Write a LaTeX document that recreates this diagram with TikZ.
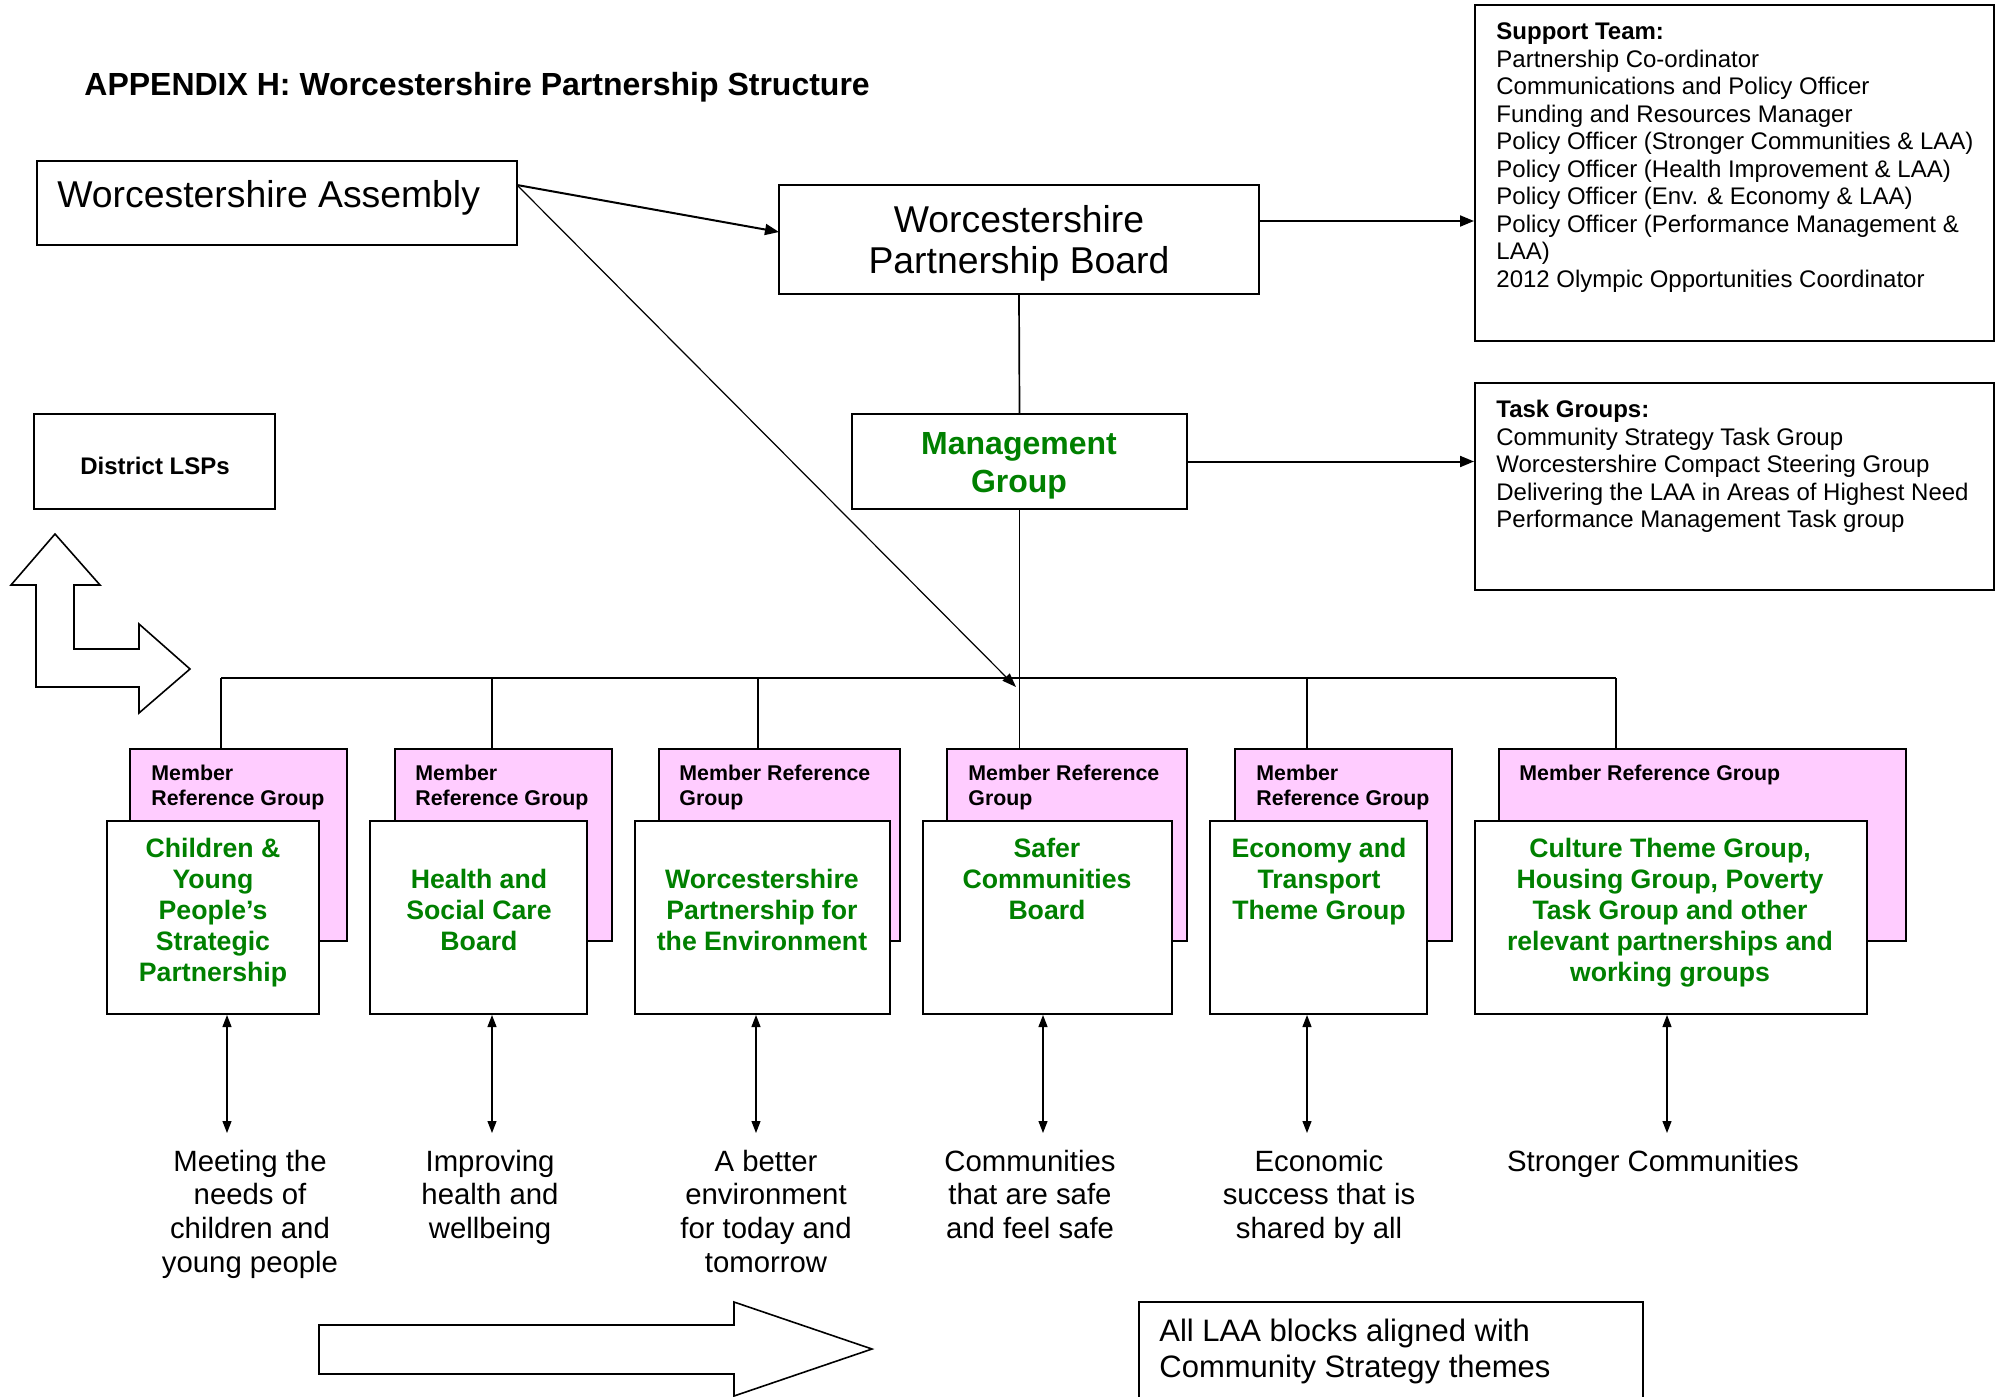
\documentclass[tikz,border=0pt]{standalone}
\usepackage{fontspec}
\setmainfont{Liberation Sans}
\usetikzlibrary{arrows.meta,fit}
\definecolor{thgreen}{RGB}{0,128,0}
\definecolor{mrgpink}{RGB}{255,204,255}
\begin{document}
\begin{tikzpicture}[x=0.5pt,y=-0.5pt,
  box/.style={draw, line width=1pt, inner sep=0pt, fill=white},
  mrg/.style={draw, line width=1pt, inner sep=0pt, fill=mrgpink},
  txt/.style={inner sep=0pt},
  conn/.style={line width=0.85pt},
  arr/.style={line width=1pt, -{Triangle[length=7pt,width=5.5pt]}},
  thinarr/.style={line width=0.6pt, -{Triangle[length=7pt,width=5pt]}},
  darr/.style={line width=0.6pt, {Triangle[length=6pt,width=4.5pt]}-{Triangle[length=6pt,width=4.5pt]}},
  big/.style={font=\fontsize{18.67}{20.5}\selectfont},
  small/.style={font=\fontsize{12}{13.76}\selectfont},
  mrgtxt/.style={txt, anchor=north west, align=left, font=\bfseries\fontsize{10.67}{12.5}\selectfont},
  thtxt/.style={txt, anchor=north, align=center, text=thgreen, font=\bfseries\fontsize{13.33}{15.5}\selectfont},
  outtxt/.style={txt, anchor=north, align=center, font=\fontsize{14.67}{16.85}\selectfont},
  blockarrow/.style={draw, line width=0.8pt, fill=white}
]
\useasboundingbox (0,0) rectangle (2002,1397);
\clip (0,0) rectangle (2002,1397);

% title
\node[txt, anchor=west, font=\bfseries\fontsize{16}{19}\selectfont] (title) at (84,87) {APPENDIX H: Worcestershire Partnership Structure};

% top boxes
\node[box, fit={(37,161)(517,245)}] (asm) {};
\node[txt, anchor=west, big] (asmt) at (57,198) {Worcestershire Assembly};

\node[box, fit={(779,185)(1259,294)}] (pb) {};
\node[txt, align=center, big] (pbt) at (1019,243) {Worcestershire\\Partnership Board};

\node[box, fit={(1475,5)(1994,341)}] (sup) {};
\node[txt, anchor=north west, align=left, small] (supt) at (1496,22.5) {\textbf{Support Team:}\\Partnership Co-ordinator\\Communications and Policy Officer\\Funding and Resources Manager\\Policy Officer (Stronger Communities \& LAA)\\Policy Officer (Health Improvement \& LAA)\\Policy Officer (Env. \& Economy \& LAA)\\Policy Officer (Performance Management \&\\LAA)\\2012 Olympic Opportunities Coordinator};

\node[box, fit={(852,414)(1187,509)}] (mg) {};
\node[txt, align=center, text=thgreen, font=\bfseries\fontsize{16}{19}\selectfont] (mgt) at (1019,466) {Management\\Group};

\node[box, fit={(1475,383)(1994,590)}] (task) {};
\node[txt, anchor=north west, align=left, small] (taskt) at (1496,400) {\textbf{Task Groups:}\\Community Strategy Task Group\\Worcestershire Compact Steering Group\\Delivering the LAA in Areas of Highest Need\\Performance Management Task group};

\node[box, fit={(34,414)(275,509)}] (dlsp) {};
\node[txt, font=\bfseries\fontsize{12}{14}\selectfont] (dlspt) at (155,466) {District LSPs};

% L-shaped block arrow
\draw[blockarrow] (55,534) -- (100,585) -- (74,585) -- (74,649) -- (139,649) -- (139,624) -- (190,669) -- (139,713) -- (139,687) -- (36,687) -- (36,585) -- (11,585) -- cycle;

% member reference groups
\node[mrg, fit={(130,749)(347,941)}] (mrg1) {};
\node[mrg, fit={(395,749)(612,941)}] (mrg2) {};
\node[mrg, fit={(659,749)(900,941)}] (mrg3) {};
\node[mrg, fit={(947,749)(1187,941)}] (mrg4) {};
\node[mrg, fit={(1235,749)(1452,941)}] (mrg5) {};
\node[mrg, fit={(1499,749)(1906,941)}] (mrg6) {};
\node[mrgtxt] (mrg1t) at (151,765) {Member\\Reference Group};
\node[mrgtxt] (mrg2t) at (415,765) {Member\\Reference Group};
\node[mrgtxt] (mrg3t) at (679,765) {Member Reference\\Group};
\node[mrgtxt] (mrg4t) at (968,765) {Member Reference\\Group};
\node[mrgtxt] (mrg5t) at (1256,765) {Member\\Reference Group};
\node[mrgtxt] (mrg6t) at (1519,765) {Member Reference Group};

% theme boxes
\node[box, fit={(107,821)(319,1014)}] (th1) {};
\node[box, fit={(370,821)(587,1014)}] (th2) {};
\node[box, fit={(635,821)(890,1014)}] (th3) {};
\node[box, fit={(923,821)(1172,1014)}] (th4) {};
\node[box, fit={(1210,821)(1427,1014)}] (th5) {};
\node[box, fit={(1475,821)(1867,1014)}] (th6) {};
\node[thtxt] (th1t) at (213,838) {Children \&\\Young\\People’s\\Strategic\\Partnership};
\node[thtxt] (th2t) at (479,868.5) {Health and\\Social Care\\Board};
\node[thtxt] (th3t) at (762,868.5) {Worcestershire\\Partnership for\\the Environment};
\node[thtxt] (th4t) at (1047,838) {Safer\\Communities\\Board};
\node[thtxt] (th5t) at (1319,838) {Economy and\\Transport\\Theme Group};
\node[thtxt] (th6t) at (1670,838) {Culture Theme Group,\\Housing Group, Poverty\\Task Group and other\\relevant partnerships and\\working groups};

% bus
\coordinate (b1) at (221,678);
\coordinate (b2) at (492,678);
\coordinate (b3) at (758,678);
\coordinate (b5) at (1307,678);
\coordinate (b6) at (1616,678);
\draw[conn] (b1) -- (b6);
\draw[conn] (b1) -- (b1 |- mrg1.north);
\draw[conn] (b2) -- (b2 |- mrg2.north);
\draw[conn] (b3) -- (b3 |- mrg3.north);
\draw[conn] (b5) -- (b5 |- mrg5.north);
\draw[conn] (b6) -- (b6 |- mrg6.north);
\draw[conn] (pb.south) -- (mg.north);
\draw[conn] (mg.south) -- (mg.south |- mrg4.north);

% arrows from top
\coordinate (asmout) at (517,185);
\coordinate (pbin) at (779,232);
\coordinate (busin) at (1016,687);
\draw[arr] (asmout) -- (pbin);
\draw[thinarr] (asmout) -- (busin);
\draw[arr] (pb.east |- 0,221) -- (sup.west |- 0,221);
\draw[arr] (mg.east) -- (mg.east -| task.west);

% outcome arrows
\coordinate (e1) at (227,1133);
\coordinate (e2) at (492,1133);
\coordinate (e3) at (756,1133);
\coordinate (e4) at (1043,1133);
\coordinate (e5) at (1307,1133);
\coordinate (e6) at (1667,1133);
\draw[darr] (e1 |- th1.south) -- (e1);
\draw[darr] (e2 |- th2.south) -- (e2);
\draw[darr] (e3 |- th3.south) -- (e3);
\draw[darr] (e4 |- th4.south) -- (e4);
\draw[darr] (e5 |- th5.south) -- (e5);
\draw[darr] (e6 |- th6.south) -- (e6);

% outcomes
\node[outtxt] (o1) at (250,1149.5) {Meeting the\\needs of\\children and\\young people};
\node[outtxt] (o2) at (490,1149.5) {Improving\\health and\\wellbeing};
\node[outtxt] (o3) at (766,1149.5) {A better\\environment\\for today and\\tomorrow};
\node[outtxt] (o4) at (1030,1149.5) {Communities\\that are safe\\and feel safe};
\node[outtxt] (o5) at (1319,1149.5) {Economic\\success that is\\shared by all};
\node[outtxt] (o6) at (1653,1149.5) {Stronger Communities};

% bottom
\draw[blockarrow] (319,1325) -- (734,1325) -- (734,1302) -- (872,1349) -- (734,1396) -- (734,1374) -- (319,1374) -- cycle;
\node[box, fit={(1139,1302)(1643,1420)}] (laa) {};
\node[txt, anchor=north west, align=left, font=\fontsize{15.5}{18}\selectfont] (laat) at (1159,1319) {All LAA blocks aligned with\\Community Strategy themes};
\end{tikzpicture}
\end{document}
